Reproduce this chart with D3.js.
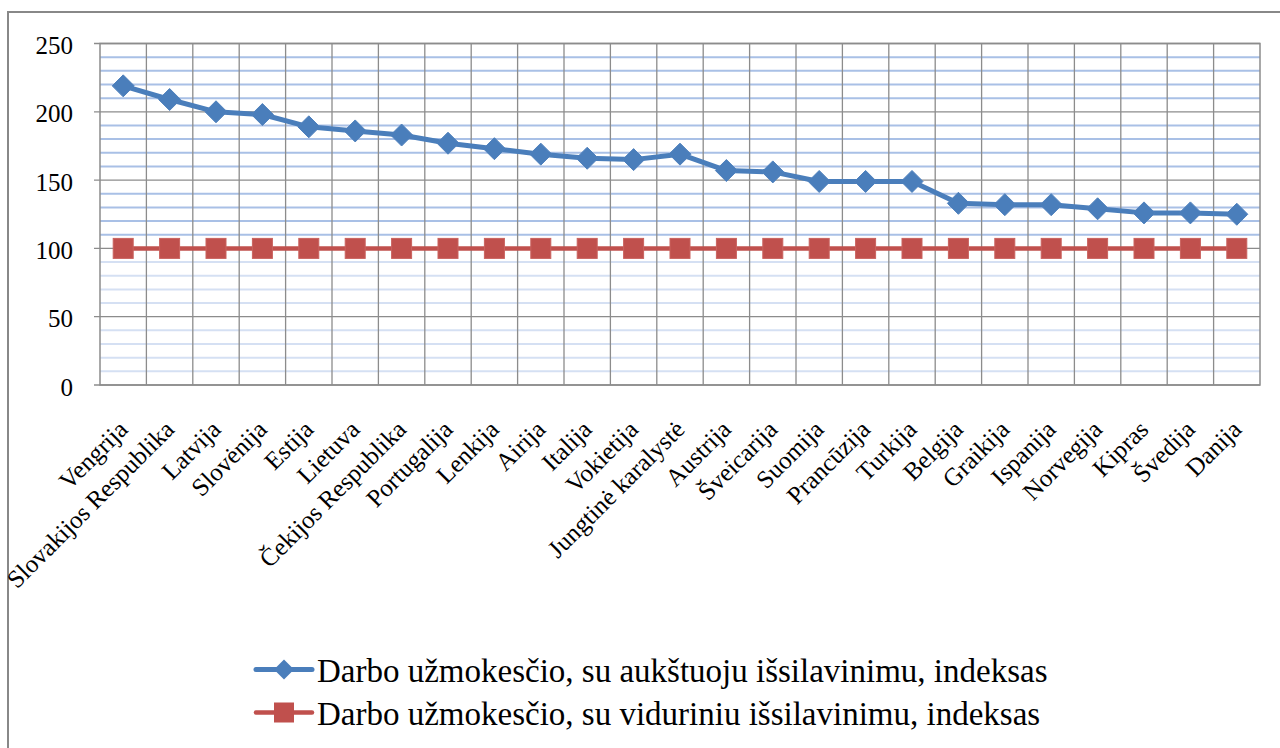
<!DOCTYPE html>
<html>
<head>
<meta charset="utf-8">
<script src="https://cdn.jsdelivr.net/npm/d3@7"></script>
<style>
  html, body { margin: 0; padding: 0; background: #fff; }
  svg { display: block; }
  svg text { font-family: "Liberation Serif", "Times New Roman", serif; }
</style>
</head>
<body>
<svg id="chart" width="1280" height="748"></svg>
<script>
const categories = ["Vengrija", "Slovakijos Respublika", "Latvija", "Slovėnija", "Estija", "Lietuva",
  "Čekijos Respublika", "Portugalija", "Lenkija", "Airija", "Italija", "Vokietija", "Jungtinė karalystė",
  "Austrija", "Šveicarija", "Suomija", "Prancūzija", "Turkija", "Belgija", "Graikija", "Ispanija",
  "Norvegija", "Kipras", "Švedija", "Danija"];
const higherEdu = [219, 209, 200, 198, 189, 186, 183, 177, 173, 169, 166, 165, 169, 157, 156, 149, 149, 149, 133, 132, 132, 129, 126, 126, 125];
const secondaryEdu = [100, 100, 100, 100, 100, 100, 100, 100, 100, 100, 100, 100, 100, 100, 100, 100, 100, 100, 100, 100, 100, 100, 100, 100, 100];
const yTicks = [0, 50, 100, 150, 200, 250];
const yMinorTicks = [10,20,30,40,60,70,80,90,110,120,130,140,160,170,180,190,210,220,230,240];
const seriesNames = ["Darbo užmokesčio, su aukštuoju išsilavinimu, indeksas",
                     "Darbo užmokesčio, su viduriniu išsilavinimu, indeksas"];

const svg = d3.select("#chart");
const plot = {left: 100, right: 1260, top: 43.5, bottom: 385};

svg.append("rect").attr("x", 8).attr("y", 12).attr("width", 1290).attr("height", 760)
  .attr("fill", "none").attr("stroke", "#888").attr("stroke-width", 2);

const x = d3.scaleBand().domain(categories).range([plot.left, plot.right]).padding(0);
const y = d3.scaleLinear().domain([0, 250]).range([plot.bottom, plot.top]);

svg.append("g").selectAll("line").data(yMinorTicks).join("line")
  .attr("x1", plot.left).attr("x2", plot.right)
  .attr("y1", d => y(d)).attr("y2", d => y(d))
  .attr("stroke", d => d > 100 ? "#a9c0e6" : "#d5e0f3").attr("stroke-width", 2);

const vlines = categories.map((c, i) => i).slice(1);
svg.append("g").selectAll("line").data(vlines).join("line")
  .attr("x1", i => x(categories[i])).attr("x2", i => x(categories[i]))
  .attr("y1", plot.top).attr("y2", plot.bottom)
  .attr("stroke", "#8c8c8c").attr("stroke-width", 1.3);

svg.append("g").selectAll("line").data(yTicks).join("line")
  .attr("x1", plot.left - 6).attr("x2", plot.right)
  .attr("y1", d => y(d)).attr("y2", d => y(d))
  .attr("stroke", "#8c8c8c").attr("stroke-width", 1.3);

svg.append("rect").attr("x", plot.left).attr("y", plot.top)
  .attr("width", plot.right - plot.left).attr("height", plot.bottom - plot.top)
  .attr("fill", "none").attr("stroke", "#8c8c8c").attr("stroke-width", 1.5);

const yAxis = d3.axisLeft(y).tickValues(yTicks).tickSize(0).tickPadding(27);
const ya = svg.append("g").attr("transform", `translate(${plot.left},0)`).call(yAxis)
  .attr("font-family", null).attr("font-size", null);
ya.select(".domain").remove();
ya.selectAll("text").attr("font-size", 25).attr("fill", "#000").attr("dy", "0.4em");

const xc = c => x(c) + x.bandwidth() / 2;
svg.append("g").selectAll("text").data(categories).join("text")
  .attr("transform", d => `translate(${xc(d) + 6},${431}) rotate(-45)`)
  .attr("text-anchor", "end")
  .attr("font-size", 25).attr("fill", "#000")
  .text(d => d);

const line = d3.line().x((d, i) => xc(categories[i])).y(d => y(d));
svg.append("path").datum(secondaryEdu).attr("d", line)
  .attr("fill", "none").attr("stroke", "#c0504d").attr("stroke-width", 4.5);
svg.append("path").datum(higherEdu).attr("d", line)
  .attr("fill", "none").attr("stroke", "#4a7ebb").attr("stroke-width", 5).attr("stroke-linejoin", "round");

svg.append("g").selectAll("rect").data(secondaryEdu).join("rect")
  .attr("x", (d, i) => xc(categories[i]) - 10).attr("y", d => y(d) - 10)
  .attr("width", 20).attr("height", 20)
  .attr("fill", "#c0504d").attr("stroke", "#c9625f").attr("stroke-width", 1);
const diamond = (cx, cy, r) => `M${cx},${cy - r}L${cx + r},${cy}L${cx},${cy + r}L${cx - r},${cy}Z`;
svg.append("g").selectAll("path").data(higherEdu).join("path")
  .attr("d", (d, i) => diamond(xc(categories[i]), y(d), 11))
  .attr("fill", "#4a7ebb").attr("stroke", "#4f81bd").attr("stroke-width", 1);

const leg = svg.append("g");
const legY = [669.5, 712.5];
leg.append("line").attr("x1", 256).attr("x2", 312).attr("y1", legY[0]).attr("y2", legY[0])
  .attr("stroke", "#4a7ebb").attr("stroke-width", 5).attr("stroke-linecap", "round");
leg.append("path").attr("d", diamond(284, legY[0], 10)).attr("fill", "#4a7ebb");
leg.append("line").attr("x1", 256).attr("x2", 312).attr("y1", legY[1]).attr("y2", legY[1])
  .attr("stroke", "#c0504d").attr("stroke-width", 4.5).attr("stroke-linecap", "round");
leg.append("rect").attr("x", 274).attr("y", legY[1] - 10).attr("width", 20).attr("height", 20).attr("fill", "#c0504d");
leg.selectAll("text").data(seriesNames).join("text")
  .attr("x", 317).attr("y", (d, i) => legY[i] + 12)
  .attr("font-size", 33).attr("fill", "#000")
  .text(d => d);
</script>
</body>
</html>
